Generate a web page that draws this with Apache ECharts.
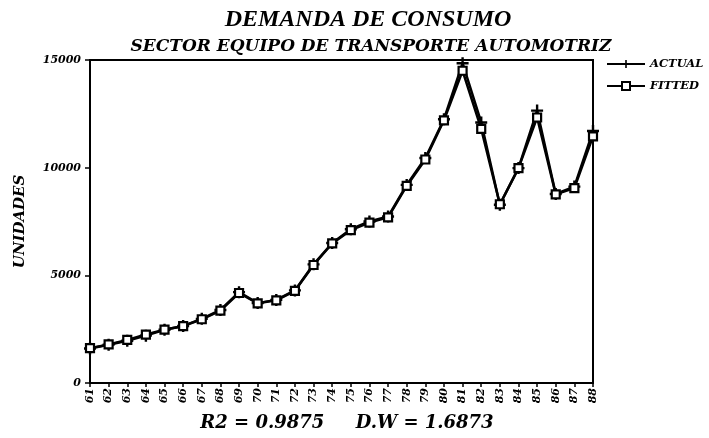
<!DOCTYPE html>
<html>
<head>
<meta charset="utf-8">
<script src="https://cdn.jsdelivr.net/npm/echarts@6/dist/echarts.min.js"></script>
<style>html,body{margin:0;padding:0;background:#fff}#c{width:709px;height:438px}</style>
</head>
<body>
<div id="c"></div>
<script>
var years = ['61','62','63','64','65','66','67','68','69','70','71','72','73','74','75','76','77','78','79','80','81','82','83','84','85','86','87','88'];
var actual = [1600,1780,1960,2200,2470,2650,2980,3390,4220,3710,3860,4300,5510,6500,7140,7500,7730,9200,10450,12250,14850,12100,8280,9980,12650,8780,9120,11700];
var fitted = [1620,1790,2000,2250,2480,2640,2960,3360,4180,3700,3840,4280,5480,6480,7100,7450,7690,9150,10380,12200,14500,11800,8300,9980,12330,8760,9050,11450];
var yTicks = [0,5000,10000,15000];
var titleText = 'DEMANDA DE CONSUMO';
var subtitleText = 'SECTOR EQUIPO DE TRANSPORTE AUTOMOTRIZ';
var statsText = 'R2 = 0.9875     D.W = 1.6873';
var yName = 'UNIDADES';

var FF = '"DejaVu Serif", "Liberation Serif", serif';
var FT = '"Liberation Serif", "DejaVu Serif", serif';
var chart = echarts.init(document.getElementById('c'), null, {renderer:'canvas'});
chart.setOption({
  backgroundColor:'#fff',
  animation:false,
  title:[
    {text:titleText, left:363, textAlign:'center', top:3, textStyle:{fontFamily:FT, fontStyle:'italic', fontWeight:'bold', fontSize:24, color:'#000'}},
    {text:subtitleText, left:366, textAlign:'center', top:33, textStyle:{fontFamily:FF, fontStyle:'italic', fontWeight:'bold', fontSize:17, color:'#000'}},
    {text:statsText, left:342, textAlign:'center', top:409, textStyle:{fontFamily:FF, fontStyle:'italic', fontWeight:'bold', fontSize:18, color:'#000'}}
  ],
  legend:{
    orient:'vertical', left:601, top:53, itemWidth:38, itemHeight:10, itemGap:10,
    textStyle:{fontFamily:FF, fontStyle:'italic', fontWeight:'bold', fontSize:11.5, color:'#000'},
    data:['ACTUAL','FITTED']
  },
  grid:{left:90, right:116, top:60, bottom:55, show:true, borderColor:'#000', borderWidth:2, containLabel:false},
  xAxis:{
    type:'category', data:years, boundaryGap:false,
    axisLine:{lineStyle:{color:'#000', width:2}},
    axisTick:{show:true, length:4, lineStyle:{color:'#000', width:1.5}},
    axisLabel:{rotate:90, color:'#000', fontFamily:FF, fontStyle:'italic', fontWeight:'bold', fontSize:11, margin:5, interval:0},
    splitLine:{show:false}
  },
  yAxis:{
    type:'value', min:yTicks[0], max:yTicks[yTicks.length-1], interval:yTicks[1]-yTicks[0],
    name:yName, nameLocation:'middle', nameGap:62, nameRotate:90,
    nameTextStyle:{fontFamily:FF, fontStyle:'italic', fontWeight:'bold', fontSize:15, color:'#000'},
    axisLine:{show:true, lineStyle:{color:'#000', width:2}},
    axisTick:{show:true, length:5, lineStyle:{color:'#000', width:1.5}},
    axisLabel:{color:'#000', fontFamily:FF, fontStyle:'italic', fontWeight:'bold', fontSize:11, margin:9, formatter:function(v){return String(v);}},
    splitLine:{show:false}
  },
  series:[
    {name:'ACTUAL', type:'line', data:actual,
     symbol:'path://M4,0H6V4H10V6H6V10H4V6H0V4H4Z', symbolSize:12,
     itemStyle:{color:'#000'}, lineStyle:{color:'#000', width:2.5}},
    {name:'FITTED', type:'line', data:fitted,
     symbol:'rect', symbolSize:8,
     itemStyle:{color:'#fff', borderColor:'#000', borderWidth:2.2}, lineStyle:{color:'#000', width:2.5}}
  ]
});
</script>
</body>
</html>
